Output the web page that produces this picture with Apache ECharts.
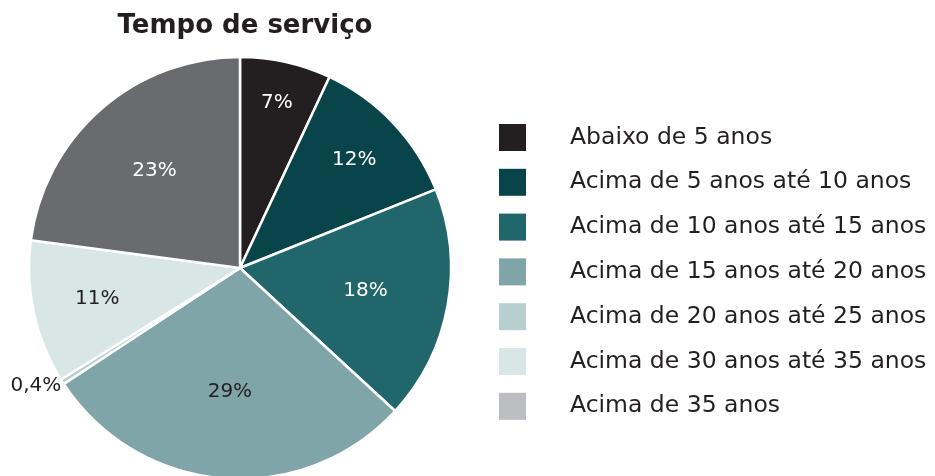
<!DOCTYPE html>
<html>
<head>
<meta charset="utf-8">
<script src="https://cdn.jsdelivr.net/npm/echarts@6/dist/echarts.min.js"></script>
<style>
html,body{margin:0;padding:0;background:#fff;}
#chart{width:935px;height:476px;}
</style>
</head>
<body>
<div id="chart"></div>
<script>
var categorias = ['Abaixo de 5 anos','Acima de 5 anos até 10 anos','Acima de 10 anos até 15 anos','Acima de 15 anos até 20 anos','Acima de 20 anos até 25 anos','Acima de 30 anos até 35 anos','Acima de 35 anos'];
var valores = [7, 12, 18, 29, 0.4, 11, 23];
var rotulos = ['7%','12%','18%','29%','0,4%','11%','23%'];
var cores = ['#231f20','#0a444b','#21666b','#80a5a9','#b8cfd0','#d8e6e6','#6a6b6f'];
var coresLegenda = ['#231f20','#0a444b','#21666b','#80a5a9','#b8cfd0','#d8e6e6','#bcbdc0'];
var corTextoRotulo = ['#fff','#fff','#fff','#231f20','#231f20','#231f20','#fff'];
// distancia do rotulo ao centro (px), como no original
var raioRotulo = [166, 154, 125, 122, 0, 143, 127];

var fonte = '"DejaVu Sans", sans-serif';
var centro = [240, 268];
var raioBase = 145; // serie invisivel de raio 290 -> rotulos "inside" ficam a 145

var dadosPizza = [], dadosRotulo = [], legendaDados = [];
for (var i = 0; i < categorias.length; i++) {
	dadosPizza.push({
		name: categorias[i], value: valores[i],
		itemStyle: {color: cores[i]},
		label: i == 4 ? {show: true, position: 'outside', formatter: rotulos[i], color: '#231f20', fontSize: 20, fontFamily: fonte} : {show: false},
		labelLine: {show: false, length: 0, length2: 0}
	});
	dadosRotulo.push({
		name: categorias[i], value: valores[i],
		label: {show: i != 4, formatter: rotulos[i], color: corTextoRotulo[i]}
	});
	legendaDados.push({name: categorias[i], itemStyle: {color: coresLegenda[i], borderWidth: 0}});
}

var chart = echarts.init(document.getElementById('chart'));
var option = {
	animation: false,
	title: {
		text: 'Tempo de serviço',
		left: 240, top: 8, textAlign: 'center',
		textStyle: {fontFamily: fonte, fontSize: 26, fontWeight: 'bold', color: '#231f20'}
	},
	legend: {
		orient: 'vertical',
		left: 499, top: 124, padding: 0,
		itemWidth: 27, itemHeight: 27, itemGap: 17.8,
		icon: 'rect',
		itemStyle: {borderWidth: 0},
		selectedMode: false,
		data: legendaDados,
		textStyle: {fontFamily: fonte, fontSize: 23.5, lineHeight: 27, color: '#231f20', padding: [0, 0, 0, 39]}
	},
	series: [
		{
			type: 'pie',
			center: centro, radius: [0, 211],
			startAngle: 90, clockwise: true,
			avoidLabelOverlap: false,
			silent: true,
			itemStyle: {borderColor: '#fff', borderWidth: 2.5},
			labelLayout: {dx: 4, dy: 4},
			data: dadosPizza
		},
		{
			// serie invisivel so para posicionar os rotulos dentro das fatias
			type: 'pie',
			center: centro, radius: [0, raioBase * 2],
			startAngle: 90, clockwise: true,
			avoidLabelOverlap: false,
			silent: true,
			itemStyle: {color: 'rgba(0,0,0,0)', borderWidth: 0},
			label: {position: 'inside', fontFamily: fonte, fontSize: 20},
			labelLine: {show: false},
			labelLayout: function (p) {
				var r = p.labelRect;
				var lx = r.x + r.width / 2 - centro[0];
				var ly = r.y + r.height / 2 - centro[1];
				var k = raioRotulo[p.dataIndex] / raioBase;
				return {x: centro[0] + lx * k, y: centro[1] + ly * k};
			},
			data: dadosRotulo
		}
	]
};
chart.setOption(option);
</script>
</body>
</html>
